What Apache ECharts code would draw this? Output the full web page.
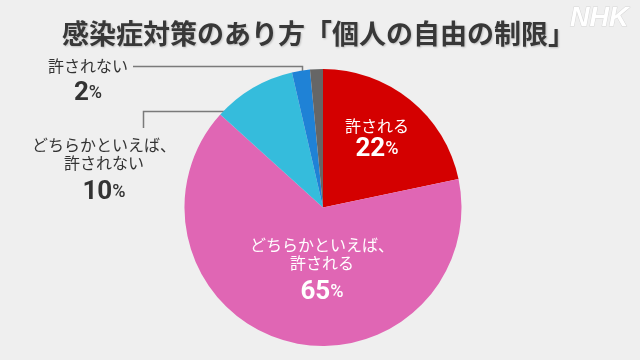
<!DOCTYPE html>
<html>
<head>
<meta charset="utf-8">
<script src="https://cdn.jsdelivr.net/npm/echarts@6/dist/echarts.min.js"></script>
<style>
html,body{margin:0;padding:0;background:#efefef;}
#chart{width:640px;height:360px;}
</style>
</head>
<body>
<div id="chart"></div>
<script>
const titleText = '感染症対策のあり方「個人の自由の制限」';
const categories = ['許される', 'どちらかといえば、\n許される', 'どちらかといえば、\n許されない', '許されない', 'わからない・無回答'];
const values = [21.7, 65.0, 9.7, 2.1, 1.5];
const shownPct = ['22', '65', '10', '2', ''];
const colors = ['#d40000', '#e066b4', '#35bcdc', '#1f82d6', '#666666'];

const FONT = '"Noto Sans CJK JP", "Noto Sans", sans-serif';
const NUMFONT = 'Roboto, "Noto Sans", sans-serif';

// label layout (text placement only)
const labelPos = [
  { x: 377, y: 140, numLH: 28, color: '#ffffff' },
  { x: 322, y: 274, numLH: 40, color: '#ffffff' },
  { x: 104, y: 174, numLH: 40, color: '#333333' },
  { x: 88,  y: 84,  numLH: 36, color: '#333333' },
  null
];
const linePts = [
  null, null,
  [[240, 111.5], [143.5, 111.5], [143.5, 128]],
  [[302.5, 84], [302.5, 66.5], [133, 66.5]],
  null
];

function makeRich(c, numLH) {
  return {
    name: { fontFamily: FONT, fontSize: 16, color: c, lineHeight: 18, align: 'center' },
    num: { fontFamily: NUMFONT, fontSize: 26, fontWeight: 'bold', color: c, lineHeight: numLH, verticalAlign: 'middle' },
    pct: { fontFamily: NUMFONT, fontSize: 18, fontWeight: 500, color: c, lineHeight: numLH, verticalAlign: 'middle' }
  };
}

const data = categories.map((name, i) => {
  const lp = labelPos[i];
  const item = { name: name, value: values[i], itemStyle: { color: colors[i] } };
  if (!lp) {
    item.label = { show: false };
    item.labelLine = { show: false };
  } else {
    const lines = name.split('\n').map(s => '{name|' + s + '}').join('\n');
    item.label = {
      show: true,
      position: linePts[i] ? 'outside' : 'inside',
      formatter: lines + '\n{num|' + shownPct[i] + '}{pct|%}',
      rich: makeRich(lp.color, lp.numLH),
      align: 'center'
    };
    item.labelLine = { show: !!linePts[i], lineStyle: { color: '#7a7a7a', width: 1.5 } };
  }
  return item;
});

const chart = echarts.init(document.getElementById('chart'), null, { renderer: 'canvas' });
chart.setOption({
  backgroundColor: '#efefef',
  animation: false,
  title: {
    text: titleText,
    left: 57,
    top: 15,
    textStyle: { fontFamily: FONT, fontSize: 27, fontWeight: 'bold', color: '#383838',
      textShadowColor: 'rgba(0,0,0,0.2)', textShadowBlur: 2, textShadowOffsetX: 1, textShadowOffsetY: 1 }
  },
  graphic: [{
    type: 'text',
    right: 11,
    top: 5,
    style: {
      text: 'NHK',
      font: 'italic bold 27px "Liberation Sans", sans-serif',
      fill: '#ffffff',
      stroke: '#d6d6d6',
      lineWidth: 1
    }
  }],
  series: [{
    type: 'pie',
    center: [323, 207.5],
    radius: 138.5,
    startAngle: 90,
    clockwise: true,
    avoidLabelOverlap: false,
    itemStyle: { borderWidth: 0 },
    emphasis: { disabled: true },
    data: data,
    labelLayout: function (params) {
      const i = params.dataIndex;
      const lp = labelPos[i];
      if (!lp) return {};
      const out = { x: lp.x, y: lp.y, align: 'center', verticalAlign: 'middle' };
      if (linePts[i]) out.labelLinePoints = linePts[i];
      return out;
    }
  }]
});
</script>
</body>
</html>
